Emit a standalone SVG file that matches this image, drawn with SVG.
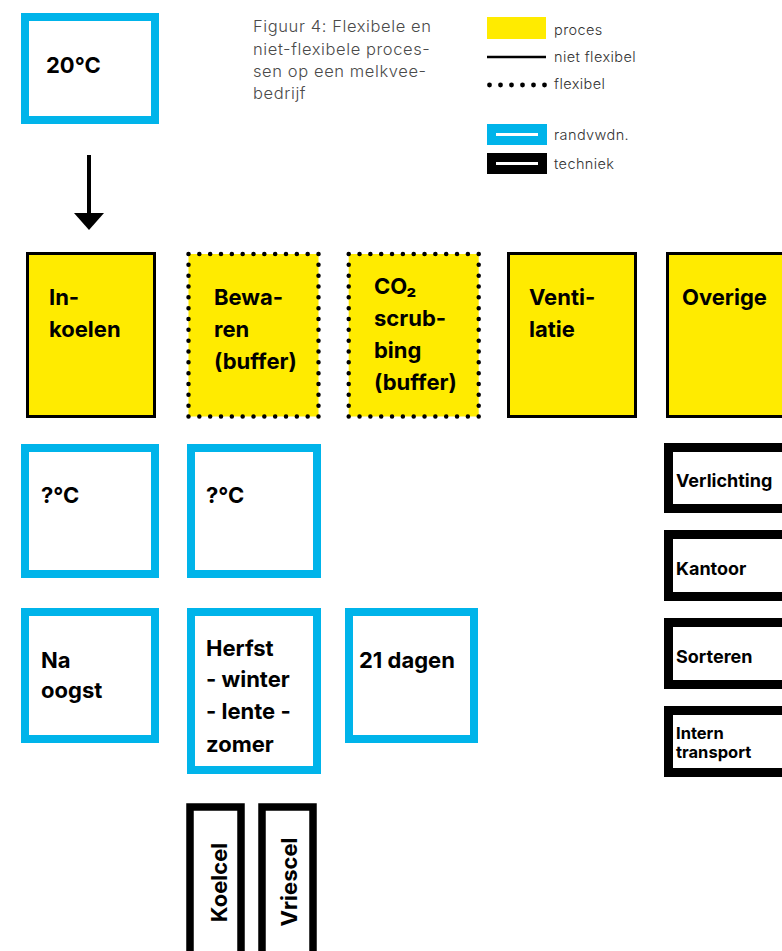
<svg xmlns="http://www.w3.org/2000/svg" width="782" height="951" viewBox="0 0 782 951">
<style>
.t{font-family:Inter,"Liberation Sans",sans-serif;font-weight:700;font-size:22px;fill:#000}
.ts{font-family:Inter,"Liberation Sans",sans-serif;font-weight:700;font-size:18px;fill:#000}
.cap{font-family:Inter,"Liberation Sans",sans-serif;font-weight:300;font-size:16.5px;letter-spacing:0.6px;fill:#4a4a4a}
.lg{font-family:Inter,"Liberation Sans",sans-serif;font-weight:300;font-size:14.5px;letter-spacing:0.4px;fill:#333}
.blue{fill:#fff;stroke:#00b4ea;stroke-width:8}
.tech{fill:#fff;stroke:#000;stroke-width:9}
.proc{fill:#ffeb00;stroke:#000;stroke-width:3}
.dot{fill:none;stroke:#000;stroke-width:4.5;stroke-linecap:round;stroke-dasharray:0 10.8333}
</style>
<rect width="782" height="951" fill="#fff"/>
<g id="caption">
<text class="cap" x="253" y="32">Figuur 4: Flexibele en</text>
<text class="cap" x="253" y="55">niet-flexibele proces-</text>
<text class="cap" x="253" y="77">sen op een melkvee-</text>
<text class="cap" x="253" y="99">bedrijf</text>
</g>
<g id="legend">
<rect x="487" y="17" width="59" height="22" fill="#ffeb00"/>
<text class="lg" x="554" y="35">proces</text>
<line x1="487" y1="57" x2="546" y2="57" stroke="#000" stroke-width="2.5"/>
<text class="lg" x="554" y="62">niet flexibel</text>
<g fill="#000">
<circle cx="489.5" cy="85" r="2.4"/><circle cx="500.5" cy="85" r="2.4"/><circle cx="511.5" cy="85" r="2.4"/>
<circle cx="522.5" cy="85" r="2.4"/><circle cx="533.5" cy="85" r="2.4"/><circle cx="544.5" cy="85" r="2.4"/>
</g>
<text class="lg" x="554" y="89">flexibel</text>
<rect x="491.5" y="128.5" width="51" height="12" fill="#fff" stroke="#00b4ea" stroke-width="9"/>
<text class="lg" x="554" y="140">randvwdn.</text>
<rect x="491.5" y="157.5" width="51" height="12" fill="#fff" stroke="#000" stroke-width="9"/>
<text class="lg" x="554" y="169">techniek</text>
</g>
<g id="n-20c">
<rect class="blue" x="25" y="17" width="130" height="103"/>
<text class="t" x="46" y="73">20°C</text>
</g>
<g id="connectors">
<line x1="89" y1="155" x2="89" y2="216" stroke="#000" stroke-width="4"/>
<polygon points="74,213 104,213 89,230" fill="#000"/>
</g>
<g id="n-inkoelen">
<rect class="proc" x="27.5" y="253.5" width="127" height="163"/>
<text class="t" x="49" y="305">In-</text>
<text class="t" x="49" y="337">koelen</text>
</g>
<g id="n-bewaren">
<rect x="188.5" y="254" width="130" height="162.5" fill="#ffeb00"/>
<path class="dot" d="M188.5 254 H318.5 V416.5 H188.5 Z"/>
<text class="t" x="214" y="305">Bewa-</text>
<text class="t" x="214" y="337">ren</text>
<text class="t" x="214" y="369">(buffer)</text>
</g>
<g id="n-co2">
<rect x="348.7" y="254" width="130" height="162.5" fill="#ffeb00"/>
<path class="dot" d="M348.7 254 H478.7 V416.5 H348.7 Z"/>
<text class="t" x="374" y="294">CO₂</text>
<text class="t" x="374" y="326">scrub-</text>
<text class="t" x="374" y="358">bing</text>
<text class="t" x="374" y="390">(buffer)</text>
</g>
<g id="n-ventilatie">
<rect class="proc" x="508.5" y="253.5" width="127" height="163"/>
<text class="t" x="529" y="305">Venti-</text>
<text class="t" x="529" y="337">latie</text>
</g>
<g id="n-overige">
<rect class="proc" x="667.5" y="253.5" width="127" height="163"/>
<text class="t" x="682" y="305">Overige</text>
</g>
<g id="n-temp1">
<rect class="blue" x="25" y="448" width="130" height="126"/>
<text class="t" x="41" y="503">?°C</text>
</g>
<g id="n-temp2">
<rect class="blue" x="191" y="448" width="126" height="126"/>
<text class="t" x="206" y="503">?°C</text>
</g>
<g id="n-naoogst">
<rect class="blue" x="25" y="612" width="130" height="127"/>
<text class="t" x="41" y="668">Na</text>
<text class="t" x="41" y="698">oogst</text>
</g>
<g id="n-seizoen">
<rect class="blue" x="191" y="612" width="126" height="158"/>
<text class="t" x="206" y="656">Herfst</text>
<text class="t" x="206" y="687">- winter</text>
<text class="t" x="206" y="719">- lente -</text>
<text class="t" x="206" y="752">zomer</text>
</g>
<g id="n-21dagen">
<rect class="blue" x="349" y="612" width="125" height="127"/>
<text class="t" x="359" y="668">21 dagen</text>
</g>
<g id="n-verlichting">
<rect class="tech" x="668.5" y="447.5" width="140" height="61"/>
<text class="ts" x="676" y="487">Verlichting</text>
</g>
<g id="n-kantoor">
<rect class="tech" x="668.5" y="534.5" width="140" height="62"/>
<text class="ts" x="676" y="575">Kantoor</text>
</g>
<g id="n-sorteren">
<rect class="tech" x="668.5" y="622.5" width="140" height="62"/>
<text class="ts" x="676" y="663">Sorteren</text>
</g>
<g id="n-intern">
<rect class="tech" x="668.5" y="710.5" width="140" height="62"/>
<text class="ts" x="676" y="739" style="font-size:16.5px">Intern</text>
<text class="ts" x="676" y="758" style="font-size:16.5px">transport</text>
</g>
<g id="n-koelcel">
<rect x="190" y="807" width="51" height="170" fill="#fff" stroke="#000" stroke-width="7.5"/>
<text class="t" x="227" y="882.5" text-anchor="middle" transform="rotate(-90 227 882.5)">Koelcel</text>
</g>
<g id="n-vriescel">
<rect x="262" y="807" width="51" height="170" fill="#fff" stroke="#000" stroke-width="7.5"/>
<text class="t" x="297" y="882" text-anchor="middle" transform="rotate(-90 297 882)">Vriescel</text>
</g>
</svg>
